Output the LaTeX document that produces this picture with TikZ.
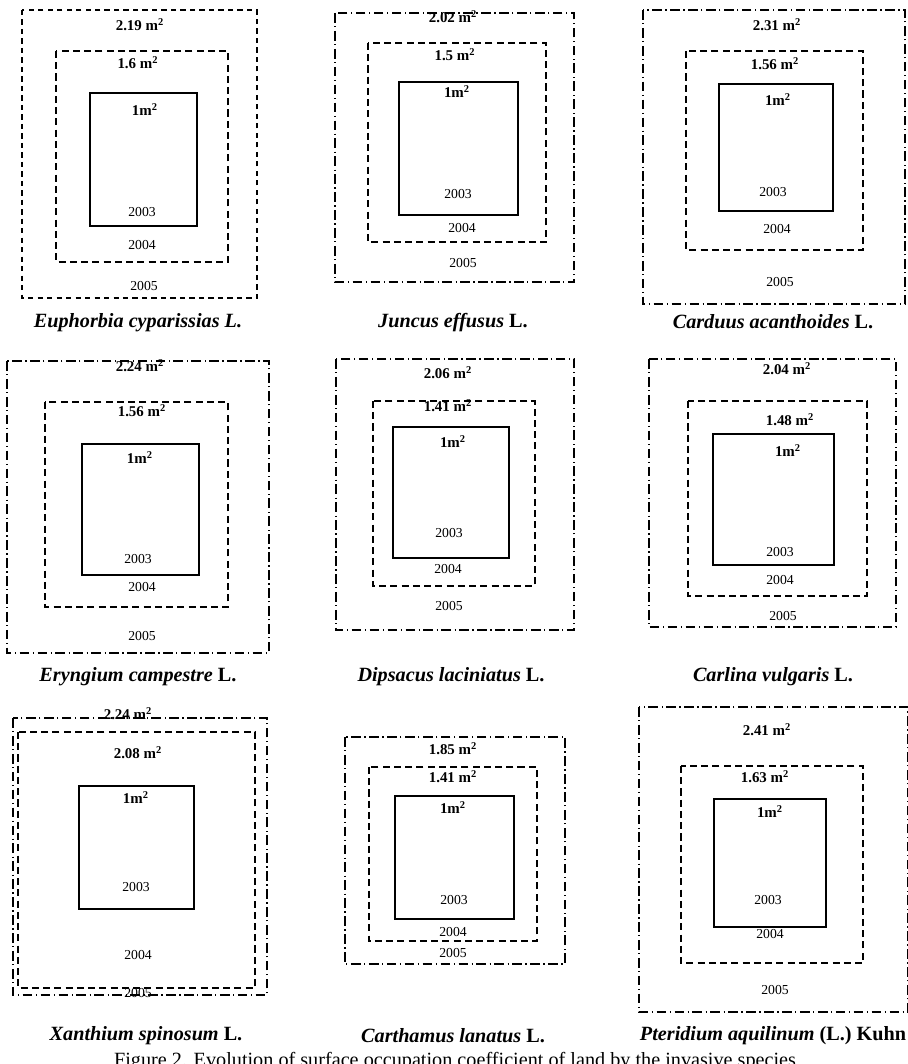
\documentclass[tikz,border=0pt]{standalone}
\usepackage{fontspec}
\setmainfont{Liberation Serif}
\usetikzlibrary{positioning}

\begin{document}
\begin{tikzpicture}[
        x=0.02cm, y=-0.02cm,
        plotA/.style={draw, line width=1.1pt},
        plotB/.style={draw, line width=1.05pt, dash pattern=on 4pt off 2.4pt},
        plotC/.style={draw, line width=1.05pt, dash pattern=on 5.5pt off 2pt on 0.7pt off 2pt},
        plotD/.style={draw, line width=1.05pt, dash pattern=on 3pt off 2.4pt},
        area/.style={inner sep=0pt, font=\fontsize{8.5}{10}\selectfont\bfseries},
        year/.style={inner sep=0pt, font=\fontsize{7.8}{9}\selectfont},
        species/.style={inner sep=0pt, font=\fontsize{11.5}{13}\selectfont\bfseries}
    ]
        \useasboundingbox (0,0) rectangle (907,1064);

        % Euphorbia cyparissias
        \draw[plotD] (22,10) rectangle (257,298);
        \draw[plotB] (56,51) rectangle (228,262);
        \draw[plotA] (90,93) rectangle (197,226);
        \node[area] (eu5) at (140,25) {2.19 m\textsuperscript{2}};
        \node[area] (eu4) at (138,63) {1.6 m\textsuperscript{2}};
        \node[area] (eu3) at (145,110) {1m\textsuperscript{2}};
        \node[year] (euy3) at (142,212) {2003};
        \node[year] (euy4) at (142,245) {2004};
        \node[year] (euy5) at (144,286) {2005};
        \node[species] (eu) at (138,323) {\textit{Euphorbia cyparissias L.}};

        % Juncus effusus
        \draw[plotC] (335,13) rectangle (574,282);
        \draw[plotB] (368,43) rectangle (546,242);
        \draw[plotA] (399,82) rectangle (518,215);
        \node[area] (ju5) at (453,17) {2.02 m\textsuperscript{2}};
        \node[area] (ju4) at (455,55) {1.5 m\textsuperscript{2}};
        \node[area] (ju3) at (457,92) {1m\textsuperscript{2}};
        \node[year] (juy3) at (458,194) {2003};
        \node[year] (juy4) at (462,228) {2004};
        \node[year] (juy5) at (463,263) {2005};
        \node[species] (ju) at (453,323) {\textit{Juncus effusus} L.};

        % Carduus acanthoides
        \draw[plotC] (643,10) rectangle (905,304);
        \draw[plotB] (686,51) rectangle (863,250);
        \draw[plotA] (719,84) rectangle (833,211);
        \node[area] (ca5) at (777,25) {2.31 m\textsuperscript{2}};
        \node[area] (ca4) at (775,64) {1.56 m\textsuperscript{2}};
        \node[area] (ca3) at (778,100) {1m\textsuperscript{2}};
        \node[year] (cay3) at (773,192) {2003};
        \node[year] (cay4) at (777,229) {2004};
        \node[year] (cay5) at (780,282) {2005};
        \node[species] (ca) at (773,322) {\textit{Carduus acanthoides} L.};

        % Eryngium campestre
        \draw[plotC] (7,361) rectangle (269,653);
        \draw[plotB] (45,402) rectangle (228,607);
        \draw[plotA] (82,444) rectangle (199,575);
        \node[area] (er5) at (140,366) {2.24 m\textsuperscript{2}};
        \node[area] (er4) at (142,411) {1.56 m\textsuperscript{2}};
        \node[area] (er3) at (140,458) {1m\textsuperscript{2}};
        \node[year] (ery3) at (138,559) {2003};
        \node[year] (ery4) at (142,587) {2004};
        \node[year] (ery5) at (142,636) {2005};
        \node[species] (er) at (138,677) {\textit{Eryngium campestre} L.};

        % Dipsacus laciniatus
        \draw[plotC] (336,359) rectangle (574,630);
        \draw[plotB] (373,401) rectangle (535,586);
        \draw[plotA] (393,427) rectangle (509,558);
        \node[area] (di5) at (448,373) {2.06 m\textsuperscript{2}};
        \node[area] (di4) at (448,406) {1.41 m\textsuperscript{2}};
        \node[area] (di3) at (453,442) {1m\textsuperscript{2}};
        \node[year] (diy3) at (449,533) {2003};
        \node[year] (diy4) at (448,569) {2004};
        \node[year] (diy5) at (449,606) {2005};
        \node[species] (di) at (451,677) {\textit{Dipsacus laciniatus} L.};

        % Carlina vulgaris
        \draw[plotC] (649,359) rectangle (896,627);
        \draw[plotB] (688,401) rectangle (867,596);
        \draw[plotA] (713,434) rectangle (834,565);
        \node[area] (cv5) at (787,369) {2.04 m\textsuperscript{2}};
        \node[area] (cv4) at (790,420) {1.48 m\textsuperscript{2}};
        \node[area] (cv3) at (788,451) {1m\textsuperscript{2}};
        \node[year] (cvy3) at (780,552) {2003};
        \node[year] (cvy4) at (780,580) {2004};
        \node[year] (cvy5) at (783,616) {2005};
        \node[species] (cv) at (773,677) {\textit{Carlina vulgaris} L.};

        % Xanthium spinosum
        \draw[plotC] (13,718) rectangle (267,995);
        \draw[plotB] (18,732) rectangle (255,988);
        \draw[plotA] (79,786) rectangle (194,909);
        \node[area] (xa5) at (128,714) {2.24 m\textsuperscript{2}};
        \node[area] (xa4) at (138,753) {2.08 m\textsuperscript{2}};
        \node[area] (xa3) at (136,798) {1m\textsuperscript{2}};
        \node[year] (xay3) at (136,887) {2003};
        \node[year] (xay4) at (138,955) {2004};
        \node[year] (xay5) at (138,993) {2005};
        \node[species] (xa) at (146,1036) {\textit{Xanthium spinosum} L.};

        % Carthamus lanatus
        \draw[plotC] (345,737) rectangle (565,964);
        \draw[plotB] (369,767) rectangle (537,941);
        \draw[plotA] (395,796) rectangle (514,919);
        \node[area] (cl5) at (453,749) {1.85 m\textsuperscript{2}};
        \node[area] (cl4) at (453,777) {1.41 m\textsuperscript{2}};
        \node[area] (cl3) at (453,808) {1m\textsuperscript{2}};
        \node[year] (cly3) at (454,900) {2003};
        \node[year] (cly4) at (453,932) {2004};
        \node[year] (cly5) at (453,953) {2005};
        \node[species] (cl) at (453,1036) {\textit{Carthamus lanatus} L.};

        % Pteridium aquilinum
        \draw[plotC] (639,707) rectangle (908,1012);
        \draw[plotB] (681,766) rectangle (863,963);
        \draw[plotA] (714,799) rectangle (826,927);
        \node[area] (pt5) at (767,730) {2.41 m\textsuperscript{2}};
        \node[area] (pt4) at (765,777) {1.63 m\textsuperscript{2}};
        \node[area] (pt3) at (770,812) {1m\textsuperscript{2}};
        \node[year] (pty3) at (768,900) {2003};
        \node[year] (pty4) at (770,934) {2004};
        \node[year] (pty5) at (775,990) {2005};
        \node[species] (pt) at (773,1036) {\textit{Pteridium aquilinum} (L.) Kuhn};

        % figure caption, cut by the page edge
        \node[inner sep=0pt, anchor=north, font=\fontsize{11.5}{13}\selectfont] (fig) at (455,1052)
            {Figure 2. Evolution of surface occupation coefficient of land by the invasive species};
    \end{tikzpicture}
\end{document}
